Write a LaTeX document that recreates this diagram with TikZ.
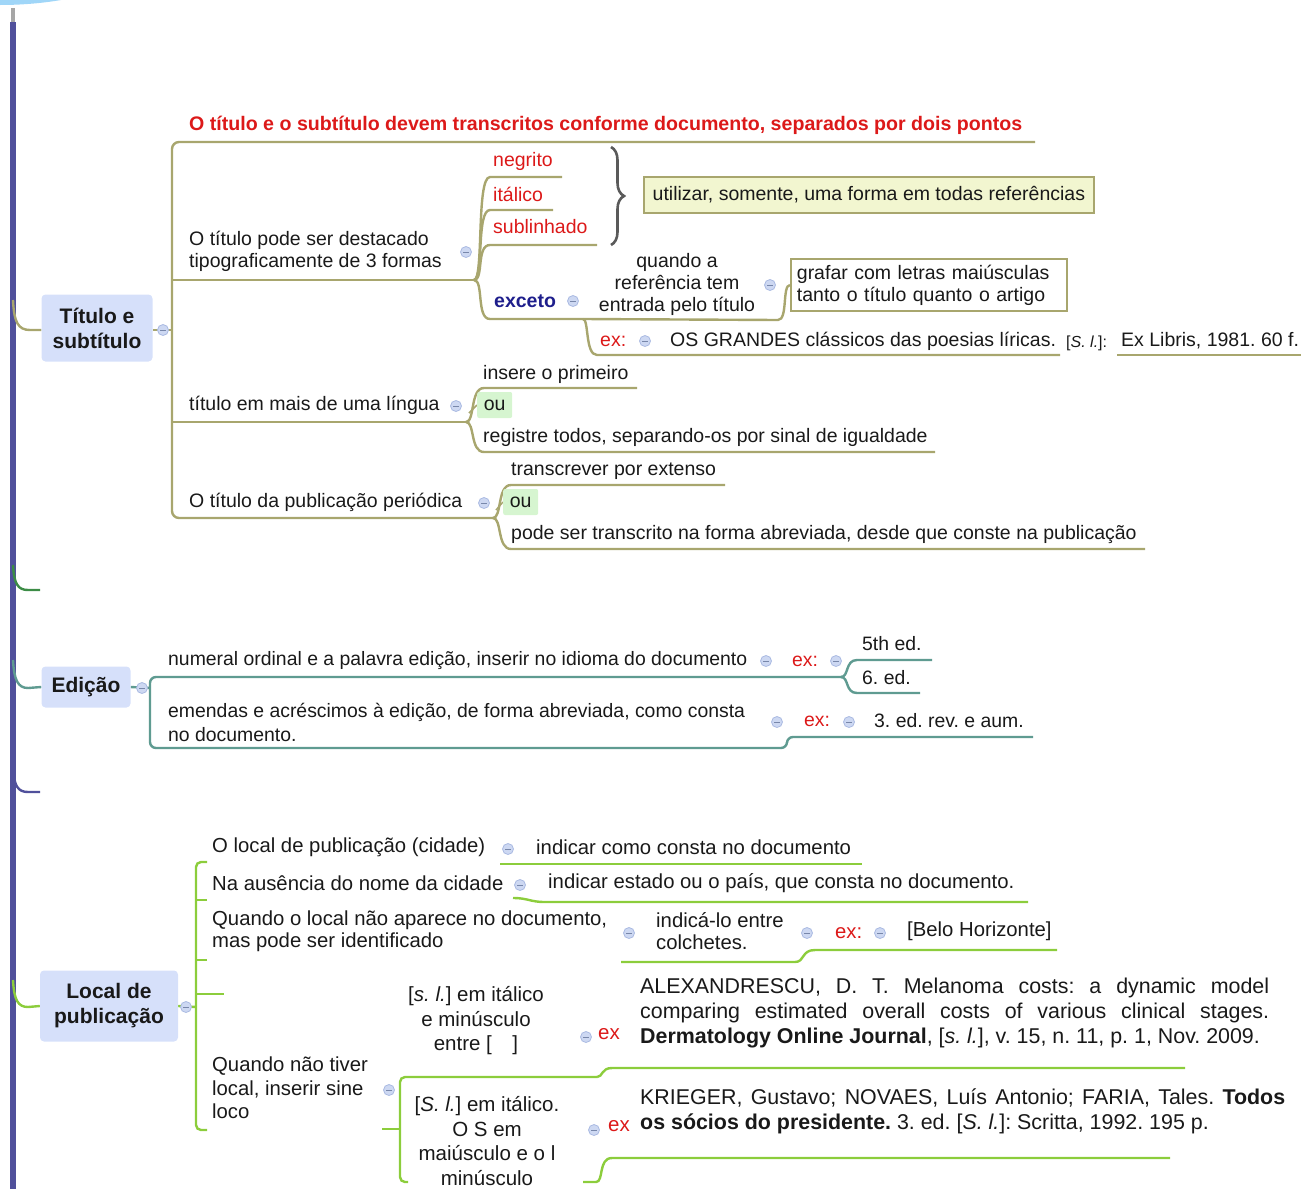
\documentclass[tikz,border=0pt]{standalone}
\usepackage{fontspec}
\setmainfont{Liberation Sans}
\usetikzlibrary{backgrounds,decorations.pathreplacing}
\frenchspacing
\definecolor{tx}{RGB}{25,25,25}
\definecolor{redt}{RGB}{220,25,25}
\definecolor{exblue}{RGB}{30,30,140}
\definecolor{olv}{RGB}{168,166,110}
\definecolor{tealc}{RGB}{95,155,145}
\definecolor{lgc}{RGB}{140,205,60}
\definecolor{grc}{RGB}{60,140,70}
\definecolor{barc}{RGB}{80,80,155}
\definecolor{mainfill}{RGB}{214,224,250}
\definecolor{colfill}{RGB}{205,216,242}
\definecolor{colbord}{RGB}{170,186,226}
\definecolor{colminus}{RGB}{120,135,170}
\definecolor{yfill}{RGB}{242,246,208}
\definecolor{oufill}{RGB}{214,245,208}
\definecolor{skyb}{RGB}{160,214,248}
\definecolor{brc}{RGB}{90,90,90}
\begin{document}
\begin{tikzpicture}[x=1pt,y=-1pt,
  txt/.style={font=\fontsize{19.5}{22}\selectfont, text=tx, inner sep=0pt, anchor=west, align=left},
  etxt/.style={txt, font=\fontsize{19.4}{24}\selectfont},
  ltxt/.style={txt, font=\fontsize{20.3}{22.5}\selectfont},
  redtxt/.style={txt, text=redt},
  bigtxt/.style={font=\fontsize{20.5}{24.5}\selectfont, text=tx, inner sep=0pt, align=center},
  partxt/.style={font=\fontsize{21.4}{25}\selectfont, text=tx, inner sep=0pt, anchor=west, align=left},
  mainnode/.style={rounded corners=4pt, fill=mainfill, font=\bfseries\fontsize{21}{25}\selectfont, text=tx, align=center, inner sep=0pt},
  colicon/.style={circle, minimum size=11pt, inner sep=0pt, fill=colfill, draw=colbord, line width=0.8pt,
     path picture={\draw[colminus, line width=1pt] ([xshift=-2.8pt]path picture bounding box.center) -- ([xshift=2.8pt]path picture bounding box.center);}},
  oln/.style={draw=olv, line width=2.4pt},
  tln/.style={draw=tealc, line width=2.4pt},
  lln/.style={draw=lgc, line width=2.4pt},
  ybox/.style={txt, fill=yfill, draw=olv, line width=1.8pt, inner xsep=6pt, inner ysep=6pt, minimum height=36pt, minimum width=450pt},
  gbox/.style={txt, fill=white, draw=olv, line width=1.8pt, inner xsep=6pt, inner ysep=4pt, minimum height=52pt, text width=264pt},
  oubox/.style={txt, fill=oufill, rounded corners=2pt, minimum width=35pt, minimum height=26pt, inner xsep=5pt}
]
\useasboundingbox (0,0) rectangle (1301,1189);
\begin{scope}
\clip (0,0) rectangle (1301,1189);
\fill[skyb] (0,-100) ellipse (200 and 105);
\end{scope}

% ---------------- main nodes ----------------
\node[mainnode, minimum width=111pt, minimum height=67pt] (tit) at (97,328) {Título e\\subtítulo};
\node[mainnode, minimum width=89pt, minimum height=41pt] (ed) at (86,687) {Edição};
\node[mainnode, minimum width=138pt, minimum height=71pt] (loc) at (109,1006) {Local de\\publicação};

\coordinate (bartop) at (13,22);
\coordinate (barbot) at (13,1189);
\coordinate (graytop) at (13,8);
\coordinate (b1) at (13,300);
\coordinate (b2) at (13,565);
\coordinate (b3) at (13,660);
\coordinate (b4) at (13,768);
\coordinate (b5) at (13,980);
\coordinate (e2) at (40,590);
\coordinate (e4) at (40,792);

% ---------------- Título section ----------------
\node[colicon] (ctit) at (163,330) {};
\node[redtxt, font=\bfseries\fontsize{19.6}{22}\selectfont] (t0) at (189,125) {O título e o subtítulo devem transcritos conforme documento, separados por dois pontos};
\node[txt] (t1) at (189,251) {O título pode ser destacado\\tipograficamente de 3 formas};
\node[colicon] (ct1) at (466,252) {};
\node[redtxt] (neg) at (493,161) {negrito};
\node[redtxt] (ita) at (493,194) {itálico};
\node[redtxt] (sub) at (493,227) {sublinhado};
\node[txt, text=exblue, font=\bfseries\fontsize{19.5}{22}\selectfont] (exc) at (494,301) {exceto};
\node[colicon] (cexc) at (573,301) {};
\node[txt, anchor=center, align=center] (qref) at (677,284) {quando a\\referência tem\\entrada pelo título};
\node[colicon] (cqref) at (770,285) {};
\node[gbox] (graf) at (790,285) {grafar com letras maiúsculas\\tanto o título quanto o artigo};
\node[ybox] (util) at (643,195) {utilizar, somente, uma forma em todas referências};
\node[redtxt] (ex1) at (600,341) {ex:};
\node[colicon] (cex1) at (645,341) {};
\node[txt] (os) at (670,341) {OS GRANDES clássicos das poesias líricas.};
\node[txt, font=\fontsize{16}{20}\selectfont] (sl1) at (1066,343) {[\textit{S. l.}]:};
\node[txt] (exl) at (1121,341) {Ex Libris, 1981. 60 f.};

\node[txt] (t2) at (189,405) {título em mais de uma língua};
\node[colicon] (ct2) at (456,406) {};
\node[txt] (ins) at (483,374) {insere o primeiro};
\node[oubox] (ou1) at (477,405) {ou};
\node[txt] (reg) at (483,437) {registre todos, separando-os por sinal de igualdade};

\node[txt] (t3) at (189,502) {O título da publicação periódica};
\node[colicon] (ct3) at (484,503) {};
\node[txt] (trans) at (511,471) {transcrever por extenso};
\node[oubox] (ou2) at (503,502) {ou};
\node[txt] (pode) at (511,534) {pode ser transcrito na forma abreviada, desde que conste na publicação};

% ---------------- Edição section ----------------
\node[colicon] (ced) at (142,688) {};
\node[etxt] (n1) at (168,661) {numeral ordinal e a palavra edição, inserir no idioma do documento};
\node[colicon] (cn1) at (766,661) {};
\node[redtxt, font=\fontsize{19.4}{24}\selectfont] (ex2) at (792,661) {ex:};
\node[colicon] (cex2) at (836,661) {};
\node[etxt] (fifth) at (862,644) {5th ed.};
\node[etxt] (sixth) at (862,678) {6. ed.};
\node[etxt] (n2) at (168,722) {emendas e acréscimos à edição, de forma abreviada, como consta\\no documento.};
\node[colicon] (cn2) at (777,722) {};
\node[redtxt, font=\fontsize{19.4}{24}\selectfont] (ex3) at (804,721) {ex:};
\node[colicon] (cex3) at (849,722) {};
\node[etxt] (third) at (874,721) {3. ed. rev. e aum.};

% ---------------- Local section ----------------
\node[colicon] (cloc) at (186,1007) {};
\node[ltxt] (l1) at (212,847) {O local de publicação (cidade)};
\node[colicon] (cl1) at (508,849) {};
\node[ltxt] (l1a) at (536,847) {indicar como consta no documento};
\node[ltxt] (l2) at (212,883) {Na ausência do nome da cidade};
\node[colicon] (cl2) at (520,885) {};
\node[ltxt] (l2a) at (548,883) {indicar estado ou o país, que consta no documento.};
\node[ltxt] (l3) at (212,931) {Quando o local não aparece no documento,\\mas pode ser identificado};
\node[colicon] (cl3) at (629,933) {};
\node[ltxt] (l3a) at (656,931) {indicá-lo entre\\colchetes.};
\node[colicon] (cl3a) at (807,933) {};
\node[redtxt, font=\fontsize{20.3}{22}\selectfont] (ex4) at (835,933) {ex:};
\node[colicon] (cex4) at (880,933) {};
\node[ltxt] (l3b) at (907,931) {[Belo Horizonte]};
\node[ltxt, font=\fontsize{20.3}{23.5}\selectfont] (l4) at (212,1088) {Quando não tiver\\local, inserir sine\\loco};
\node[colicon] (cl4) at (389,1090) {};
\node[bigtxt] (s1) at (476,1021) {[\textit{s. l.}] em itálico\\e minúsculo\\entre [\quad]};
\node[colicon] (cs1) at (586,1037) {};
\node[redtxt, font=\fontsize{20.5}{24}\selectfont] (ex5) at (598,1034) {ex};
\node[partxt] (alex) at (640,1013) {\makebox[629pt][s]{ALEXANDRESCU, D. T. Melanoma costs: a dynamic model}\\
\makebox[629pt][s]{comparing estimated overall costs of various clinical stages.}\\
\textbf{Dermatology Online Journal}, [\textit{s. l.}], v. 15, n. 11, p. 1, Nov. 2009.};
\node[bigtxt] (s2) at (487,1141) {[\textit{S. l.}] em itálico.\\O S em\\maiúsculo e o l\\minúsculo};
\node[colicon] (cs2) at (594,1130) {};
\node[redtxt, font=\fontsize{20.5}{24}\selectfont] (ex6) at (608,1126) {ex};
\node[partxt] (krieg) at (640,1111) {\makebox[645pt][s]{KRIEGER, Gustavo; NOVAES, Luís Antonio; FARIA, Tales. \textbf{Todos}}\\
\textbf{os sócios do presidente.} 3. ed. [\textit{S. l.}]: Scritta, 1992. 195 p.};

% ---------------- connectors ----------------
\begin{scope}[on background layer]
% central bar
\draw[gray!70, line width=4pt] (graytop) -- (bartop);
\draw[barc, line width=6pt] (bartop) -- (barbot);
% top-level branches
\draw[oln] (b1) .. controls (14,322) and (18,330) .. (30,330) -- (tit.west |- 0,330);
\draw[draw=grc, line width=2.4pt] (b2) .. controls (14,584) and (18,590) .. (28,590) -- (e2);
\draw[tln] (b3) .. controls (14,680) and (18,688) .. (28,688) -- (ed.west);
\draw[draw=barc, line width=2.4pt] (b4) .. controls (14,786) and (18,792) .. (28,792) -- (e4);
\draw[lln] (b5) .. controls (14,1000) and (18,1007) .. (28,1007) -- (loc.west);

% Título
\draw[oln] (tit.east |- 0,330) -- (172,330);
\draw[oln, rounded corners=7pt] (1035,142) -- (172,142) -- (172,518) -- (493,518);
\draw[oln] (172,280) -- (476,280);
\draw[oln] (172,422) -- (466,422);
\coordinate (j1) at (474,280);
\draw[oln] (j1) .. controls (484,280) and (476,177) .. (490,177) -- (562,177);
\draw[oln] (j1) .. controls (484,280) and (476,210) .. (490,210) -- (553,210);
\draw[oln] (j1) .. controls (484,280) and (476,245) .. (490,245) -- (597,245);
\draw[oln] (j1) .. controls (484,280) and (476,319) .. (490,319) -- (583,319);
\coordinate (j2) at (583,319);
\draw[oln] (j2) -- (778,320) .. controls (788,320) and (782,285) .. (graf.west);
\draw[oln] (j2) .. controls (589,319) and (585,355) .. (597,355) -- (1060,355);
\draw[oln] (1117,355) -- (1301,355);
\draw[brc, line width=2.6pt, decorate, decoration={brace, amplitude=13pt}] (611,147) -- (611,245);

\coordinate (j3) at (466,422);
\draw[oln] (j3) .. controls (475,422) and (470,388) .. (484,388) -- (637,388);
\draw[oln] (j3) .. controls (475,422) and (470,452) .. (484,452) -- (935,452);
\draw[draw=olv, line width=1.5pt] (469,413) -- (ou1.west);
\coordinate (j4) at (493,518);
\draw[oln] (j4) .. controls (502,518) and (497,485) .. (511,485) -- (725,485);
\draw[oln] (j4) .. controls (502,518) and (497,549) .. (511,549) -- (1145,549);
\draw[draw=olv, line width=1.5pt] (496,510) -- (ou2.west);

% Edição
\draw[tln] (ed.east) -- (150,688);
\draw[tln, rounded corners=6pt] (843,677) -- (150,677) -- (150,748) -- (787,748) -- (787,737) -- (1033,737);
\coordinate (j5) at (841,677);
\draw[tln] (j5) .. controls (849,677) and (845,660) .. (857,660) -- (932,660);
\draw[tln] (j5) .. controls (849,677) and (845,693) .. (857,693) -- (920,693);

% Local
\draw[lln] (loc.east) -- (196,1007);
\draw[lln, rounded corners=5pt] (207,862) -- (196,862) -- (196,1130) -- (207,1130);
\draw[lln] (196,900) -- (207,900);
\draw[lln] (196,960) -- (207,960);
\draw[lln] (196,994) -- (224,994);
\draw[lln] (500,864) -- (862,864);
\draw[lln] (513,898) .. controls (528,898) and (530,902) .. (545,902) -- (1028,902);
\draw[lln] (621,962) -- (795,962) .. controls (805,962) and (801,950) .. (815,950) -- (1057,950);
\draw[lln] (382,1129) -- (400,1129);
\draw[lln, rounded corners=5pt] (597,1077) -- (400,1077) -- (400,1182) -- (408,1182);
\draw[lln] (597,1077) .. controls (603,1077) and (601,1068) .. (612,1068) -- (1185,1068);
\draw[lln] (583,1182) -- (596,1182) .. controls (604,1182) and (598,1158) .. (612,1158) -- (1170,1158);
\end{scope}
\end{tikzpicture}
\end{document}
